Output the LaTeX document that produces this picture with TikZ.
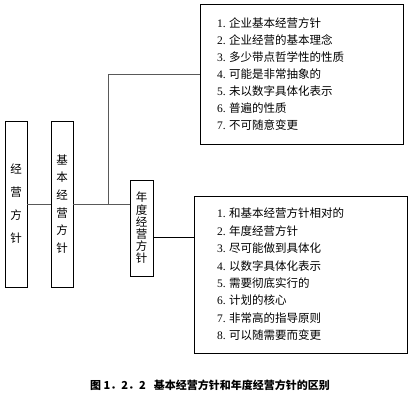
\documentclass[tikz,border=0pt]{standalone}
\usepackage{fontspec}
\setmainfont{Liberation Serif}
\newfontfamily\cjk{Noto Sans CJK SC}
\newcommand\entry[2]{#1.\hspace{3.5pt}{\cjk #2}}
\begin{document}
\begin{tikzpicture}[x=1pt,y=-1pt,
  box/.style={draw=black,line width=0.6pt,inner sep=0pt},
  link/.style={draw=black!65,line width=0.8pt},
  vbox/.style={box,align=center},
  listbox/.style={box,align=left,inner ysep=0pt,font=\fontsize{11.5}{17}\selectfont}]
\useasboundingbox (0,0) rectangle (410,400);

% vertical title boxes
\node[vbox,minimum width=22pt,minimum height=166pt,
      font=\cjk\fontsize{11.5}{23}\selectfont] (A) at (16,204) {经\\营\\方\\针};
\node[vbox,minimum width=22pt,minimum height=166pt,
      font=\cjk\fontsize{11.5}{17.6}\selectfont] (B) at (62,204) {基\\本\\经\\营\\方\\针};
\node[vbox,minimum width=23pt,minimum height=96pt,
      font=\cjk\fontsize{11.5}{12.2}\selectfont] (C) at (141.5,228) {年\\度\\经\\营\\方\\针};

% item lists
\node[listbox,minimum height=140pt,inner xsep=17pt,text width=169pt] (D) at (301.5,74) {%
  \entry{1}{企业基本经营方针}\\
  \entry{2}{企业经营的基本理念}\\
  \entry{3}{多少带点哲学性的性质}\\
  \entry{4}{可能是非常抽象的}\\
  \entry{5}{未以数字具体化表示}\\
  \entry{6}{普遍的性质}\\
  \entry{7}{不可随意变更}};
\node[listbox,minimum height=157pt,inner xsep=23pt,text width=167pt,
      font=\fontsize{11.5}{17.4}\selectfont] (E) at (300.5,274.5) {%
  \entry{1}{和基本经营方针相对的}\\
  \entry{2}{年度经营方针}\\
  \entry{3}{尽可能做到具体化}\\
  \entry{4}{以数字具体化表示}\\
  \entry{5}{需要彻底实行的}\\
  \entry{6}{计划的核心}\\
  \entry{7}{非常高的指导原则}\\
  \entry{8}{可以随需要而变更}};

% connectors
\coordinate (hub) at (108,204);
\coordinate (tap) at (170,237);
\draw[link] (A.east |- hub) -- (B.west |- hub);
\draw[link] (B.east |- hub) -- (C.west |- hub);
\draw[link] (hub) |- (D.west);
\draw[link,draw=black] (C.east |- tap) -- (E.west |- tap);

% caption
\node[font=\cjk\bfseries\fontsize{11}{13}\selectfont] (cap) at (210,385)
  {图 1．2．2\hspace{8pt}基本经营方针和年度经营方针的区别};
\end{tikzpicture}
\end{document}
